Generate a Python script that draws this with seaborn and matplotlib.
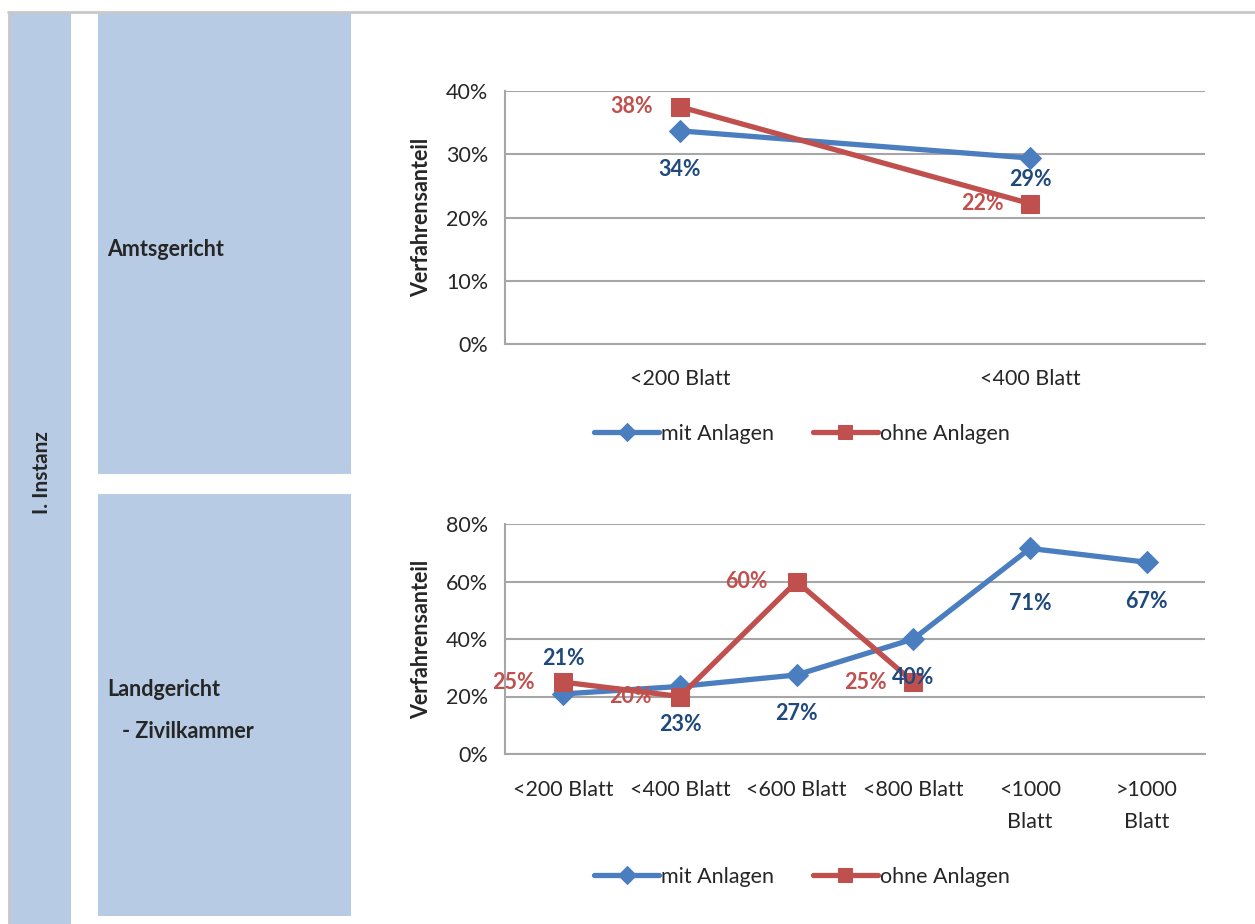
import matplotlib
matplotlib.use("Agg")
import matplotlib.pyplot as plt
from matplotlib.patches import Rectangle
from matplotlib.lines import Line2D
from matplotlib.ticker import PercentFormatter, FixedLocator
import seaborn as sns

# data
cats_ag = ["<200 Blatt", "<400 Blatt"]
mit_ag = [0.337, 0.294]
ohne_ag = [0.375, 0.222]

cats_lg = ["<200 Blatt", "<400 Blatt", "<600 Blatt", "<800 Blatt", "<1000\nBlatt", ">1000\nBlatt"]
mit_lg = [0.209, 0.235, 0.275, 0.40, 0.715, 0.667]
ohne_lg = [0.25, 0.20, 0.60, 0.25]

mit_lbl_ag = ["34%", "29%"]
ohne_lbl_ag = ["38%", "22%"]
mit_lbl_lg = ["21%", "23%", "27%", "40%", "71%", "67%"]
ohne_lbl_lg = ["25%", "20%", "60%", "25%"]

sns.set_style("white")
plt.rcParams["font.family"] = ["Lato", "DejaVu Sans"]

BLUE = "#4a7ebf"
RED = "#c0504d"
BLUE_TXT = "#1f497d"
PANEL = "#b7cce4"
GRID = "#a6a6a6"
FS = 15.5

W, H = 1255, 924
fig = plt.figure(figsize=(W / 100, H / 100), dpi=100)


def fx(x):
    return x / W


def fy(y):
    return 1 - y / H


def rect(x0, y0, x1, y1, color):
    fig.add_artist(Rectangle((fx(x0), fy(y1)), fx(x1) - fx(x0), fy(y0) - fy(y1),
                             transform=fig.transFigure, color=color, lw=0, zorder=0))


# frame and side panels
fig.add_artist(Line2D([fx(8), 1], [fy(12), fy(12)], transform=fig.transFigure, color="#c8c8c8", lw=2))
fig.add_artist(Line2D([fx(9), fx(9)], [fy(12), 0], transform=fig.transFigure, color="#c8c8c8", lw=2))
rect(10, 13, 71, 924, PANEL)
rect(98, 13, 351, 474, PANEL)
rect(98, 494, 351, 916, PANEL)

fig.text(fx(42), fy(473), "I. Instanz", rotation=90, fontsize=15, fontweight="bold", ha="center", va="center")
fig.text(fx(107), fy(250), "Amtsgericht", fontsize=15.5, fontweight="bold", ha="left", va="center")
fig.text(fx(107), fy(690), "Landgericht", fontsize=15.5, fontweight="bold", ha="left", va="center")
fig.text(fx(122), fy(732), "- Zivilkammer", fontsize=15.5, fontweight="bold", ha="left", va="center")


def draw(ax, cats, mit, ohne, ymax, mit_lbl, ohne_lbl, mit_off, ohne_off, legend_y, xpad):
    sns.lineplot(x=cats, y=mit, ax=ax, sort=False, color=BLUE, lw=3.8, marker="D",
                 markersize=11, markeredgecolor=BLUE, label="mit Anlagen", zorder=3)
    sns.lineplot(x=cats[:len(ohne)], y=ohne, ax=ax, sort=False, color=RED, lw=3.8, marker="s",
                 markersize=13, markeredgecolor=RED, label="ohne Anlagen", zorder=4)
    n = len(cats)
    ax.set_xlim(-0.5, n - 0.5)
    ax.set_ylim(0, ymax)
    ax.set_yticks([ymax * k / 4 for k in range(5)])
    ax.yaxis.set_major_formatter(PercentFormatter(1.0, decimals=0))
    ax.grid(axis="y", color=GRID, lw=1.5)
    ax.set_axisbelow(True)
    for s in ["top", "right"]:
        ax.spines[s].set_visible(False)
    for s in ["left", "bottom"]:
        ax.spines[s].set_color(GRID)
        ax.spines[s].set_linewidth(1.5)
    ax.xaxis.set_minor_locator(FixedLocator([i - 0.5 for i in range(n + 1)]))
    ax.tick_params(axis="x", which="major", length=0, pad=xpad, labelsize=FS)
    ax.tick_params(axis="x", which="minor", length=7, width=1.5, color=GRID, direction="out")
    ax.tick_params(axis="y", length=6, width=1.5, color=GRID, direction="out", labelsize=FS, pad=6)
    for lab in ax.get_xticklabels():
        lab.set_linespacing(1.75)
    ax.set_ylabel("Verfahrensanteil", fontsize=FS, fontweight="bold", labelpad=10)
    ax.set_xlabel("")
    for i, (v, t) in enumerate(zip(mit, mit_lbl)):
        ax.annotate(t, (i, v), xytext=mit_off[i], textcoords="offset pixels", ha="center", va="center",
                    color=BLUE_TXT, fontsize=FS, fontweight="bold", zorder=5)
    for i, (v, t) in enumerate(zip(ohne, ohne_lbl)):
        ax.annotate(t, (i, v), xytext=ohne_off[i], textcoords="offset pixels", ha="center", va="center",
                    color=RED, fontsize=FS, fontweight="bold", zorder=5)
    ax.legend(loc="center", bbox_to_anchor=(fx(802), fy(legend_y)), bbox_transform=fig.transFigure,
              ncol=2, frameon=False, fontsize=FS, handlelength=3.0, columnspacing=1.8,
              handletextpad=0.1, markerscale=0.8)


ax1 = fig.add_axes([fx(505), fy(344), fx(1205) - fx(505), fy(91) - fy(344)])
draw(ax1, cats_ag, mit_ag, ohne_ag, 0.4, mit_lbl_ag, ohne_lbl_ag,
     [(0, -39), (0, -21)], [(-48, 0), (-48, 0)], 434, 18)

ax2 = fig.add_axes([fx(505), fy(754), fx(1205) - fx(505), fy(524) - fy(754)])
draw(ax2, cats_lg, mit_lg, ohne_lg, 0.8, mit_lbl_lg, ohne_lbl_lg,
     [(0, 35), (0, -38), (0, -39), (0, -38), (0, -55), (0, -39)],
     [(-50, 0), (-50, 0), (-50, 0), (-48, 0)], 877, 19)

fig.savefig("out.png", dpi=100)
